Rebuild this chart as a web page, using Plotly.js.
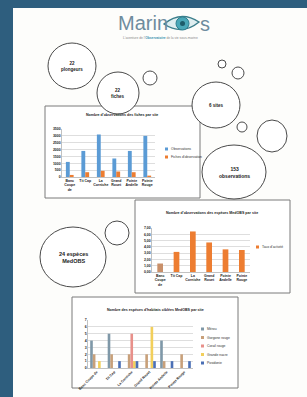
<!DOCTYPE html>
<html><head><meta charset="utf-8">
<script src="https://cdn.plot.ly/plotly-3.0.1.min.js"></script>
<style>html,body{margin:0;padding:0;background:#2e5e7e;}#c{width:307px;height:397px;}</style>
</head><body><div id="c"></div>
<script>
// ---- data ----
const sites1 = ['Banc<br>Coupe<br>de', 'Tit Cap', 'La<br>Corniche', 'Grand<br>Rouet', 'Pointe<br>Andelle', 'Pointe<br>Rouge'];
const obsSeriesNames = ['Observations', "Fiches d'observation"];
const obsValues = [1100, 1900, 3100, 1350, 1900, 3000];
const ficheValues = [150, 350, 450, 400, 350, 100];
const ticks1 = [0, 500, 1000, 1500, 2000, 2500, 3000, 3500];

const sites2 = ['Banc<br>Coupe<br>de', 'Tit Cap', 'La<br>Corniche', 'Grand<br>Rouet', 'Pointe<br>Andelle', 'Pointe<br>Rouge'];
const activityName = "Taux d'activité";
const activityValues = [1.35, 3.2, 6.45, 4.7, 3.6, 3.5];
const ticks2 = [0, 1, 2, 3, 4, 5, 6, 7];
const tickText2 = ['0,00', '1,00', '2,00', '3,00', '4,00', '5,00', '6,00', '7,00'];

const sites3 = ['Banc Coupe de', 'Tit Cap', 'La Corniche', 'Grand Rouet', 'Pointe Andelle', 'Pointe Rouge'];
const speciesNames = ['Mérou', 'Gorgone rouge', 'Corail rouge', 'Grande nacre', 'Posidonie'];
const speciesMerou = [4, 5, 0, 0, 4, 0];
const speciesGorgone = [2, 2, 2, 2, 1, 2];
const speciesCorail = [0, 0, 5, 0, 0, 0];
const speciesNacre = [1, 0, 1, 6, 0, 0];
const speciesPosidonie = [0, 1, 1, 1, 1, 1];
const ticks3 = [0, 1, 2, 3, 4, 5, 6, 7];

const bubbleTexts = ['22<br>plongeurs', '22<br>fiches', '6 sites', '153<br>observations', '24 espèces<br>MedOBS'];
const titles = ["Nombre d'observations des fiches par site",
  "Nombre d'observations des espèces MedOBS par site",
  "Nombre des espèces d'habitats ciblées MedOBS par site"];

// ---- helpers ----
const W = 307, H = 397;
const X = p => p / W, Y = p => 1 - p / H;
const font = 'Liberation Sans, Arial, sans-serif';

const col1 = ['#5b9bd5', '#ed7d31'];
const col3 = ['#7f98a8', '#c8a07a', '#e8908a', '#f2cf5b', '#4a6fb5'];

const traces = [];
traces.push({type: 'bar', x: sites1, y: obsValues, name: obsSeriesNames[0], marker: {color: col1[0]}, xaxis: 'x', yaxis: 'y'});
traces.push({type: 'bar', x: sites1, y: ficheValues, name: obsSeriesNames[1], marker: {color: col1[1]}, xaxis: 'x', yaxis: 'y'});
traces.push({type: 'bar', x: sites2, y: activityValues, name: activityName, width: 0.35,
  marker: {color: ['#c9906a', '#ed7d31', '#ed7d31', '#ed7d31', '#ed7d31', '#ed7d31']}, xaxis: 'x2', yaxis: 'y2'});
const s3 = [speciesMerou, speciesGorgone, speciesCorail, speciesNacre, speciesPosidonie];
s3.forEach((v, i) => traces.push({type: 'bar', x: sites3, y: v, name: speciesNames[i], marker: {color: col3[i]},
  width: 0.15, offset: -0.375 + i * 0.15, xaxis: 'x3', yaxis: 'y3'}));

const shapes = [];
const annotations = [];
// white page
shapes.push({type: 'rect', xref: 'paper', yref: 'paper', x0: X(13), x1: X(307), y0: Y(397), y1: Y(8), fillcolor: '#fdfdfb', line: {width: 0}, layer: 'below'});
// chart boxes
[[45, 106, 200, 198], [135, 200, 290, 293], [72, 297, 238, 388]].forEach(b => {
  shapes.push({type: 'rect', xref: 'paper', yref: 'paper', x0: X(b[0]), x1: X(b[2]), y0: Y(b[3]), y1: Y(b[1]), fillcolor: 'white', line: {color: '#7a7a7a', width: 1}, layer: 'below'});
});
// circles [cx, cy, rx, ry]
const circles = [[72, 66, 24, 23], [118, 93, 21, 21], [150, 78, 7, 7], [222, 64, 4, 4], [238, 73, 6, 6],
  [216, 105, 24, 23], [242, 127, 5, 5], [272, 136, 15, 16], [234, 172, 32, 27], [73, 257, 33, 30], [117, 233, 12, 12]];
circles.forEach(c => {
  shapes.push({type: 'circle', xref: 'paper', yref: 'paper', x0: X(c[0] - c[2]), x1: X(c[0] + c[2]), y0: Y(c[1] + c[3]), y1: Y(c[1] - c[3]), fillcolor: 'white', line: {color: '#4a4a4a', width: 1}, layer: 'below'});
});
// bubble texts
const bubblePos = [[72, 66, 4.5], [118, 93, 4.5], [216, 105, 4.5], [234, 172, 5], [73, 257, 5.5]];
bubbleTexts.forEach((t, i) => {
  annotations.push({xref: 'paper', yref: 'paper', x: X(bubblePos[i][0]), y: Y(bubblePos[i][1]), text: '<b>' + t + '</b>', showarrow: false,
    font: {family: font, size: bubblePos[i][2], color: '#222'}, xanchor: 'center', yanchor: 'middle'});
});
// logo
annotations.push({xref: 'paper', yref: 'paper', x: X(116), y: Y(23), text: 'Marin', showarrow: false, xanchor: 'left', yanchor: 'middle',
  font: {family: font, size: 20, color: '#6f8c9e'}});
annotations.push({xref: 'paper', yref: 'paper', x: X(198), y: Y(24), text: 's', showarrow: false, xanchor: 'left', yanchor: 'middle',
  font: {family: font, size: 20, color: '#6f8c9e'}});
shapes.push({type: 'path', xref: 'paper', yref: 'paper',
  path: `M ${X(164)} ${Y(24)} Q ${X(181)} ${Y(10)} ${X(199)} ${Y(22)} Q ${X(182)} ${Y(36)} ${X(164)} ${Y(24)} Z`,
  fillcolor: '#dfeef0', line: {color: '#3d7f8c', width: 1.5}});
shapes.push({type: 'circle', xref: 'paper', yref: 'paper', x0: X(176), x1: X(189), y0: Y(30), y1: Y(17), fillcolor: '#4aa8b8', line: {color: '#2f7f8f', width: 1}});
shapes.push({type: 'circle', xref: 'paper', yref: 'paper', x0: X(180), x1: X(185), y0: Y(26), y1: Y(21), fillcolor: '#1d5c6a', line: {width: 0}});
annotations.push({xref: 'paper', yref: 'paper', x: X(160), y: Y(38), showarrow: false, xanchor: 'center', yanchor: 'middle',
  text: "L'aventure de l'<span style='color:#3a8fb0'><b>Observatoire</b></span> de la vie sous-marine", font: {family: font, size: 3.3, color: '#888'}});
// chart titles
[[122, 115], [212, 213], [155, 310]].forEach((p, i) => {
  annotations.push({xref: 'paper', yref: 'paper', x: X(p[0]), y: Y(p[1]), text: '<b>' + titles[i] + '</b>', showarrow: false,
    font: {family: font, size: 3.6, color: '#222'}, xanchor: 'center', yanchor: 'middle'});
});
// manual legends
function legend(names, colors, x, y0, dy) {
  names.forEach((n, i) => {
    const y = y0 + i * dy;
    shapes.push({type: 'rect', xref: 'paper', yref: 'paper', x0: X(x), x1: X(x + 3), y0: Y(y + 1.5), y1: Y(y - 1.5), fillcolor: colors[i], line: {width: 0}});
    annotations.push({xref: 'paper', yref: 'paper', x: X(x + 4), y: Y(y), text: n, showarrow: false, xanchor: 'left', yanchor: 'middle',
      font: {family: font, size: 3.4, color: '#333'}});
  });
}
legend(obsSeriesNames, col1, 165, 149, 8);
legend([activityName], ['#ed7d31'], 256, 247, 8);
legend(speciesNames, col3, 201, 329, 8.5);

const ax = (dom, anchor, extra) => Object.assign({domain: dom, anchor: anchor, tickangle: 0, tickfont: {family: font, size: 3.5, color: '#222', weight: 'bold'}, showgrid: false, zeroline: false,
  showline: true, linecolor: '#999', linewidth: 0.6, ticks: '', fixedrange: true, automargin: false}, extra || {});
const yax = (dom, anchor, tv, tt, rng) => ({domain: dom, anchor: anchor, range: rng, tickvals: tv, ticktext: tt, tickfont: {family: font, size: 3.5, color: '#222', weight: 'bold'},
  showgrid: true, gridcolor: '#c8c8c8', gridwidth: 0.6, zeroline: false, showline: true, linecolor: '#999', linewidth: 0.6, ticks: '', ticklen: 0, fixedrange: true, automargin: false});

const layout = {
  width: W, height: H, margin: {l: 0, r: 0, t: 0, b: 0}, paper_bgcolor: '#2e5e7e', plot_bgcolor: 'rgba(0,0,0,0)',
  showlegend: false, barmode: 'group', bargap: 0.5, bargroupgap: 0,
  xaxis: ax([X(62), X(155)], 'y'),
  yaxis: yax([Y(177), Y(129)], 'x', ticks1, ticks1.map(String), [0, 3500]),
  xaxis2: ax([X(152), X(250)], 'y2'),
  yaxis2: yax([Y(272), Y(228)], 'x2', ticks2, tickText2, [0, 7]),
  xaxis3: ax([X(88), X(193)], 'y3', {tickangle: -45}),
  yaxis3: yax([Y(368), Y(320)], 'x3', ticks3, ticks3.map(String), [0, 7]),
  shapes: shapes, annotations: annotations
};
Plotly.newPlot('c', traces, layout, {staticPlot: true, displayModeBar: false});
</script></body></html>
